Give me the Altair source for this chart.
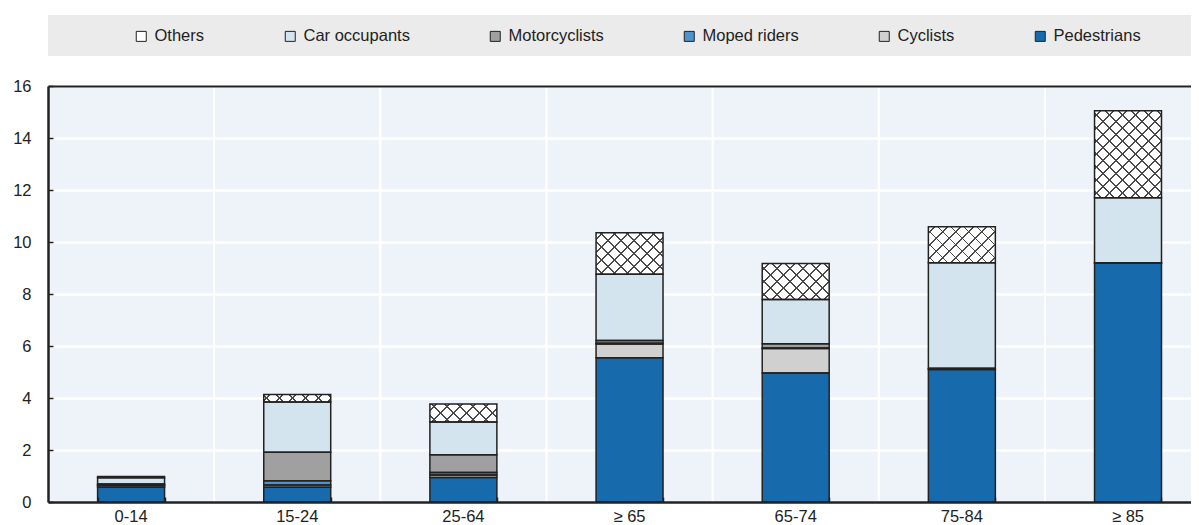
import altair as alt
import pandas as pd

# ---------------- data ----------------
categories = ["0-14", "15-24", "25-64", "≥ 65", "65-74", "75-84", "≥ 85"]
series = ["Pedestrians", "Cyclists", "Moped riders", "Motorcyclists", "Car occupants", "Others"]

pedestrians = [0.57, 0.57, 0.94, 5.55, 4.96, 5.10, 9.18]
cyclists = [0.06, 0.08, 0.10, 0.53, 0.94, 0.03, 0.02]
moped_riders = [0.02, 0.17, 0.09, 0.03, 0.02, 0.00, 0.00]
motorcyclists = [0.04, 1.09, 0.69, 0.10, 0.17, 0.00, 0.00]
car_occupants = [0.24, 1.94, 1.26, 2.55, 1.70, 4.07, 2.50]
others = [0.05, 0.28, 0.69, 1.60, 1.38, 1.39, 3.35]

y_ticks = [0, 2, 4, 6, 8, 10, 12, 14, 16]

values = {
    "Pedestrians": pedestrians,
    "Cyclists": cyclists,
    "Moped riders": moped_riders,
    "Motorcyclists": motorcyclists,
    "Car occupants": car_occupants,
    "Others": others,
}

# ---------------- style ----------------
legend_order = ["Others", "Car occupants", "Motorcyclists", "Moped riders", "Cyclists", "Pedestrians"]
legend_colors = ["#FFFFFF", "#D3E4EE", "#A0A0A0", "#4F93CD", "#D0D0D0", "#176BAC"]

W, H = 1143, 416
PAD_INNER = 0.597
PAD_OUTER = 0.238
ALIGN = 0.627
Y_MAX = 16
FONT = "Liberation Sans"
FS = 16.5
INK = "#222222"
PLOT_BG = "#EEF2F9"

rows = []
for i, c in enumerate(categories):
    base = 0.0
    for k, s in enumerate(series):
        v = values[s][i]
        rows.append(dict(cat=c, series=s, order=k, v=v, y0=base, y1=base + v))
        base += v
df = pd.DataFrame(rows)

n_cat = len(categories)
step = W / (n_cat - PAD_INNER + 2 * PAD_OUTER)
bar_w = step * (1 - PAD_INNER)

x_scale = alt.Scale(domain=categories, paddingInner=PAD_INNER, paddingOuter=PAD_OUTER, align=ALIGN)
y_scale = alt.Scale(domain=[0, Y_MAX], nice=False, zero=True)
color_scale = alt.Scale(domain=legend_order, range=legend_colors)

one = pd.DataFrame({"b": [1]})

# legend band and plot background (decoration)
band = alt.Chart(one).mark_rect(color="#EBEBEB").encode(
    x=alt.value(0), x2=alt.value(W), y=alt.value(-71), y2=alt.value(-30)
)
plot_bg = alt.Chart(one).mark_rect(color=PLOT_BG).encode(
    x=alt.value(0), x2=alt.value(W), y=alt.value(0), y2=alt.value(H)
)

# white grid lines
h_grid = alt.Chart(pd.DataFrame({"t": y_ticks})).mark_rule(
    stroke="#FFFFFF", strokeWidth=2.4, yOffset=0.5
).encode(
    y=alt.Y("t:Q", scale=y_scale, axis=None), x=alt.value(0), x2=alt.value(W)
)
v_grid = alt.Chart(pd.DataFrame({"cat": categories})).mark_rule(
    stroke="#FFFFFF", strokeWidth=2.2, xOffset=-PAD_INNER * step / 2
).encode(
    x=alt.X("cat:N", scale=x_scale, sort=categories, axis=None, bandPosition=0),
    y=alt.value(0), y2=alt.value(H),
)

fill_layer = alt.Chart(df).mark_bar(strokeWidth=0).encode(
    x=alt.X(
        "cat:N", scale=x_scale, sort=categories, title=None,
        axis=alt.Axis(
            orient="bottom", labelAngle=0, ticks=False, domain=False, grid=False,
            labelFont=FONT, labelFontSize=FS, labelColor=INK, labelPadding=6,
        ),
    ),
    y=alt.Y(
        "y0:Q", scale=y_scale, title=None,
        axis=alt.Axis(
            orient="left", values=y_ticks, ticks=False, domain=False, grid=False,
            labelFont=FONT, labelFontSize=FS, labelColor=INK, labelPadding=17,
        ),
    ),
    y2="y1:Q",
    color=alt.Color(
        "series:N", scale=color_scale,
        legend=alt.Legend(
            title=None, orient="none", legendX=85, legendY=-58, direction="horizontal",
            symbolType="square", symbolSize=100, symbolStrokeColor=INK, symbolStrokeWidth=1,
            labelFont=FONT, labelFontSize=FS, labelColor=INK,
            columnPadding=77, labelOffset=5, padding=0,
        ),
    ),
    order=alt.Order("order:Q"),
)

# cross-hatch for "Others" built from two striped gradients per bar
PERIOD = 13.0
LINE = 1.8
DARK = "#4a4a4a"
CLEAR = "rgba(255,255,255,0)"


def stripe_stops(w, h):
    total = w + h
    stops = [alt.GradientStop(offset=0, color=CLEAR)]
    c = PERIOD / 2
    while c - LINE / 2 < total:
        a = max(0.0, (c - LINE / 2) / total)
        b = min(1.0, (c + LINE / 2) / total)
        stops.append(alt.GradientStop(offset=a, color=CLEAR))
        stops.append(alt.GradientStop(offset=a, color=DARK))
        stops.append(alt.GradientStop(offset=b, color=DARK))
        stops.append(alt.GradientStop(offset=b, color=CLEAR))
        c += PERIOD
    stops.append(alt.GradientStop(offset=1, color=CLEAR))
    return stops


hatch_layers = []
for i, c in enumerate(categories):
    h = others[i] * H / Y_MAX
    w = bar_w
    s = (w + h) / (w * w + h * h)
    stops = stripe_stops(w, h)
    g1 = alt.Gradient(gradient="linear", stops=stops, x1=0, y1=0, x2=s * w, y2=s * h)
    g2 = alt.Gradient(gradient="linear", stops=stops, x1=0, y1=1, x2=s * w, y2=1 - s * h)
    for gi, g in enumerate([g1, g2]):
        top_axis = None
        if i == 0 and gi == 0:
            top_axis = alt.Axis(orient="top", labels=False, ticks=False, domain=True,
                                domainColor=INK, domainWidth=2, grid=False, zindex=1)
        hatch_layers.append(
            alt.Chart(df)
            .transform_filter((alt.datum.cat == c) & (alt.datum.series == "Others"))
            .mark_bar(fill=g, strokeWidth=0)
            .encode(
                x=alt.X("cat:N", scale=x_scale, sort=categories, title=None, axis=top_axis),
                y=alt.Y("y0:Q", scale=y_scale, title=None, axis=None),
                y2="y1:Q",
            )
        )

outline = alt.Chart(df).mark_bar(fillOpacity=0, stroke=INK, strokeWidth=1.5).encode(
    x=alt.X(
        "cat:N", scale=x_scale, sort=categories, title=None,
        axis=alt.Axis(orient="top", offset=-H, labels=False, domain=True, domainColor=INK,
                      domainWidth=2.5, grid=False, ticks=True, tickSize=5, tickColor=INK,
                      tickWidth=1.5, tickBand="extent", zindex=1),
    ),
    y=alt.Y(
        "y0:Q", scale=y_scale, title=None,
        axis=alt.Axis(orient="right", offset=-W, values=y_ticks, labels=False, domain=True,
                      domainColor=INK, domainWidth=2.5, grid=False, ticks=True, tickSize=5,
                      tickColor=INK, tickWidth=1.5, zindex=1),
    ),
    y2="y1:Q",
)

chart = (
    alt.layer(band, plot_bg, h_grid, v_grid, fill_layer, *hatch_layers, outline)
    .resolve_axis(x="independent", y="independent")
    .properties(
        width=W, height=H,
        autosize=alt.AutoSizeParams(type="none"),
        padding={"left": 40, "top": 78, "right": 0, "bottom": 23},
    )
    .configure_view(stroke=None)
    .configure(background="white")
)

chart.save("out.html", embed_options={"renderer": "svg", "actions": False})
